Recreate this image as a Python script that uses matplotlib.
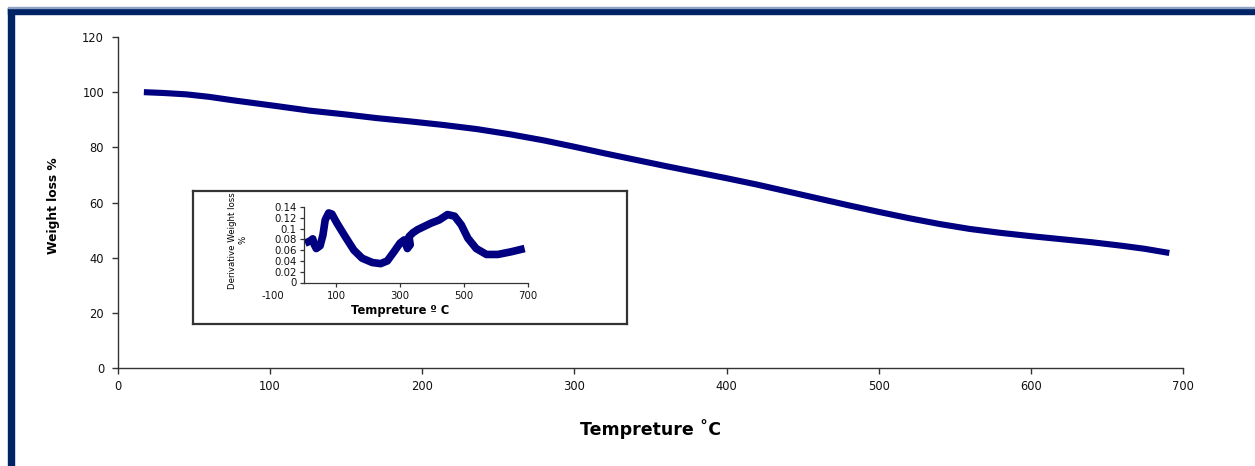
import matplotlib
matplotlib.use("Agg")
import matplotlib.pyplot as plt
from matplotlib.patches import Rectangle
from matplotlib.ticker import FuncFormatter

# ---------------- data ----------------
temp_main = [17, 30, 45, 60, 75, 90, 105, 126, 150, 170, 192, 214, 236, 258, 280, 300, 320, 340,
             360, 380, 400, 420, 440, 460, 480, 500, 520, 540, 560, 580, 600, 620, 640, 660, 675, 691]
weight_main = [100, 99.7, 99.2, 98.3, 97.1, 96, 94.9, 93.3, 91.9, 90.6, 89.4, 88.1, 86.6, 84.7,
               82.5, 80.2, 77.8, 75.5, 73.2, 71.0, 68.8, 66.5, 64.0, 61.5, 59.0, 56.6, 54.3, 52.2,
               50.4, 49.0, 47.8, 46.7, 45.6, 44.3, 43.2, 41.7]

temp_deriv = [2, 18, 26, 31, 37, 49, 58, 65, 76, 86, 102, 128, 155, 181, 213, 239, 260, 281,
              300, 313, 323, 332, 328, 340, 355, 397, 423, 449, 471, 492, 513, 539, 571, 607, 649, 691]
deriv = [0.073, 0.077, 0.081, 0.070, 0.063, 0.068, 0.088, 0.116, 0.129, 0.127, 0.110, 0.085, 0.060,
         0.045, 0.037, 0.035, 0.040, 0.057, 0.073, 0.079, 0.063, 0.070, 0.085, 0.092, 0.098, 0.110,
         0.116, 0.126, 0.123, 0.107, 0.082, 0.063, 0.052, 0.052, 0.057, 0.063]

main_xticks = [0, 100, 200, 300, 400, 500, 600, 700]
main_yticks = [0, 20, 40, 60, 80, 100, 120]
inset_xticks = [-100, 100, 300, 500, 700]
inset_yticks = [0, 0.02, 0.04, 0.06, 0.08, 0.1, 0.12, 0.14]

xlabel_main = "Tempreture \u02daC"
ylabel_main = "Weight loss %"
xlabel_inset = "Tempreture \u00ba C"
ylabel_inset = "Derivative Weight loss\n%"

# ---------------- style ----------------
NAVY = "#000080"
FRAME = "#002366"
plt.rcParams["font.family"] = ["DejaVu Sans"]
plt.rcParams["axes.unicode_minus"] = False

W, H = 1255, 466
fig = plt.figure(figsize=(W / 100, H / 100), dpi=100)

def fx(px):
    return px / W

def fy(py):
    return 1 - py / H

# frame bars (top and left)
fig.patches.append(Rectangle((fx(8), fy(13.5)), 1 - fx(8), (13.5 - 8) / H,
                             transform=fig.transFigure, color=FRAME, zorder=0))
fig.patches.append(Rectangle((fx(8), 0), (14 - 8) / W, fy(8),
                             transform=fig.transFigure, color=FRAME, zorder=0))
fig.patches.append(Rectangle((fx(8), fy(8)), 1 - fx(8), 1 / H,
                             transform=fig.transFigure, color="#8fa3c4", zorder=0))

# ---------------- main axes ----------------
L, R, T, B = 118, 1183, 37, 368
ax = fig.add_axes([fx(L), fy(B), (R - L) / W, (B - T) / H])
ax.plot(temp_main, weight_main, color=NAVY, lw=4.4, solid_capstyle="butt", solid_joinstyle="round")
ax.set_xlim(0, 700)
ax.set_ylim(0, 120)
ax.set_xticks(main_xticks)
ax.set_yticks(main_yticks)
for s in ["top", "right"]:
    ax.spines[s].set_visible(False)
for s in ["left", "bottom"]:
    ax.spines[s].set_color("#333333")
    ax.spines[s].set_linewidth(1.0)
ax.tick_params(axis="both", direction="out", length=4, width=1.0, color="#333333",
               labelsize=8.3, labelcolor="#111111")
ax.tick_params(axis="y", pad=6)
ax.tick_params(axis="x", pad=5)
ax.set_xlabel(xlabel_main, fontsize=12.5, fontweight="bold", color="black")
ax.xaxis.set_label_coords(0.5, -0.153)
ax.set_ylabel(ylabel_main, fontsize=8.8, fontweight="bold", color="black")
ax.yaxis.set_label_coords(-0.054, 0.49)

# ---------------- inset box ----------------
bx0, by0, bx1, by1 = 193, 191.5, 627, 324
box = fig.add_axes([fx(bx0), fy(by1), (bx1 - bx0) / W, (by1 - by0) / H])
box.set_xticks([])
box.set_yticks([])
for s in box.spines.values():
    s.set_color("#333333")
    s.set_linewidth(1.6)
box.set_zorder(2)

# ---------------- inset axes ----------------
iL, iR, iT, iB = 272.6, 527.5, 207, 282.5
ins = fig.add_axes([fx(iL), fy(iB), (iR - iL) / W, (iB - iT) / H])
ins.set_zorder(3)
ins.patch.set_alpha(0)
ins.plot(temp_deriv, deriv, color=NAVY, lw=5.5, solid_capstyle="butt", solid_joinstyle="round")
ins.set_xlim(-100, 700)
ins.set_ylim(0, 0.14)
ins.set_xticks(inset_xticks)
ins.set_yticks(inset_yticks)
ins.yaxis.set_major_formatter(FuncFormatter(lambda v, p: f"{v:g}"))
for s in ["top", "right"]:
    ins.spines[s].set_visible(False)
ins.spines["left"].set_position(("data", 0))
ins.spines["bottom"].set_bounds(0, 700)
for s in ["left", "bottom"]:
    ins.spines[s].set_color("#333333")
    ins.spines[s].set_linewidth(0.9)
ins.tick_params(axis="both", direction="out", length=3, width=0.9, color="#333333",
                labelsize=7.3, labelcolor="#111111")
ins.tick_params(axis="y", pad=2.5)
ins.tick_params(axis="x", pad=3)
ins.xaxis.get_major_ticks()[0].tick1line.set_visible(False)
ins.set_xlabel(xlabel_inset, fontsize=8.3, fontweight="bold", color="black")
ins.xaxis.set_label_coords(0.5, -0.28)
ins.set_ylabel(ylabel_inset, fontsize=6.2, color="black", linespacing=1.15)
ins.yaxis.set_label_coords(-0.1, 0.56)

fig.savefig("out.png", dpi=100)
